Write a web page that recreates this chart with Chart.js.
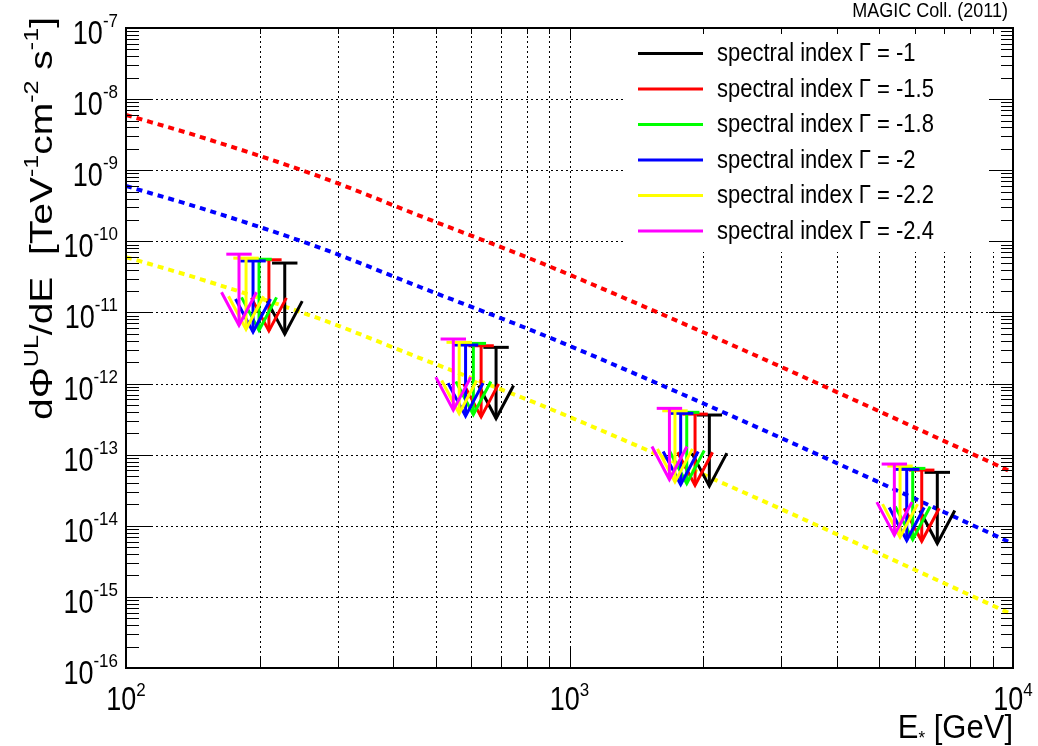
<!DOCTYPE html>
<html>
<head>
<meta charset="utf-8">
<script src="https://cdn.jsdelivr.net/npm/chart.js@4.4.1/dist/chart.umd.min.js"></script>
<style>
html,body{margin:0;padding:0;background:#fff;}
canvas{display:block;}
</style>
</head>
<body>
<canvas id="c" width="1038" height="746"></canvas>
<script>
// ---------------- data ----------------
const seriesLabels = ['spectral index \u0393 = -1', 'spectral index \u0393 = -1.5', 'spectral index \u0393 = -1.8',
                      'spectral index \u0393 = -2', 'spectral index \u0393 = -2.2', 'spectral index \u0393 = -2.4'];
const seriesColors = ['#000000', '#ff0000', '#00ff00', '#0000ff', '#ffff00', '#ff00ff'];

// upper-limit energies (GeV) and flux upper limits per spectral index
const ulE_m1   = [228, 683, 2067, 6750];
const ulV_m1   = [4.95e-11, 3.23e-12, 3.61e-13, 5.64e-14];
const ulE_m15  = [210, 632, 1919, 6226];
const ulV_m15  = [5.5e-11, 3.40e-12, 3.72e-13, 6.07e-14];
const ulE_m18  = [199.5, 607, 1838, 5941];
const ulV_m18  = [5.6e-11, 3.67e-12, 3.94e-13, 6.41e-14];
const ulE_m2   = [193.4, 583, 1781, 5759];
const ulV_m2   = [5.3e-11, 3.48e-12, 3.81e-13, 6.21e-14];
const ulE_m22  = [186.5, 564, 1729, 5563];
const ulV_m22  = [5.8e-11, 3.80e-12, 4.14e-13, 6.92e-14];
const ulE_m24  = [179.8, 547, 1680, 5401];
const ulV_m24  = [6.6e-11, 4.23e-12, 4.48e-13, 7.38e-14];

// dashed reference curves
const curveE      = [100, 147, 274, 460, 860, 1460, 2550, 4520, 10000];
const curveRed    = [6.0e-9, 2.95e-9, 8.1e-10, 2.28e-10, 5.0e-11, 1.24e-11, 2.7e-12, 5.4e-13, 5.6e-14];
const curveBlue   = [6.0e-10, 2.95e-10, 8.1e-11, 2.28e-11, 5.0e-12, 1.24e-12, 2.7e-13, 5.4e-14, 5.6e-15];
const curveYellow = [6.0e-11, 2.95e-11, 8.1e-12, 2.28e-12, 5.0e-13, 1.24e-13, 2.7e-14, 5.4e-15, 5.6e-16];

// tick label exponents
const xTickExps = [2, 3, 4];
const yTickExps = [-7, -8, -9, -10, -11, -12, -13, -14, -15, -16];

// ---------------- helpers ----------------
const FONT = '"Liberation Sans", Arial, Helvetica, sans-serif';
const ulE = [ulE_m1, ulE_m15, ulE_m18, ulE_m2, ulE_m22, ulE_m24];
const ulV = [ulV_m1, ulV_m15, ulV_m18, ulV_m2, ulV_m22, ulV_m24];
const pts = (xs, ys) => xs.map((v, i) => ({x: v, y: ys[i]}));

const curveDs = (vals, col) => ({
  type: 'line', data: pts(curveE, vals), borderColor: col, borderWidth: 4,
  borderDash: [6, 5], borderCapStyle: 'butt', pointRadius: 0, fill: false,
  cubicInterpolationMode: 'monotone', isUL: false
});

const datasets = [
  curveDs(curveRed, '#ff0000'),
  curveDs(curveBlue, '#0000ff'),
  curveDs(curveYellow, '#ffff00')
];
seriesLabels.forEach((lab, i) => {
  datasets.push({
    type: 'line', label: lab, data: pts(ulE[i], ulV[i]), borderColor: seriesColors[i],
    showLine: false, pointRadius: 0, isUL: true
  });
});

const ARROW_FACTOR = 10;   // arrow spans one decade
const CAP_HALF = 12.7, HEAD_W = 17.5, HEAD_H = 33;

function logTicks(minExp, maxExp) {
  const out = [];
  for (let d = minExp; d < maxExp; d++) {
    for (let m = 1; m <= 9; m++) out.push({v: m * Math.pow(10, d), major: m === 1});
  }
  out.push({v: Math.pow(10, maxExp), major: true});
  return out;
}

// text drawn with a vertical stretch (ROOT-like tall glyphs)
function sText(ctx, txt, x, y, px, sy) {
  ctx.save();
  ctx.font = px + 'px ' + FONT;
  ctx.translate(x, y);
  ctx.scale(1, sy);
  ctx.fillText(txt, 0, 0);
  ctx.restore();
}
function tw(ctx, txt, px) { ctx.font = px + 'px ' + FONT; return ctx.measureText(txt).width; }

const gridPlugin = {
  id: 'rootGrid',
  beforeDatasetsDraw(chart) {
    const {ctx, chartArea: a, scales: {x, y}} = chart;
    ctx.save();
    ctx.strokeStyle = '#000';
    ctx.lineWidth = 1;
    ctx.setLineDash([2, 3]);
    logTicks(2, 4).forEach(t => {
      if (t.v <= 100 || t.v >= 10000) return;
      const px = Math.round(x.getPixelForValue(t.v)) + 0.5;
      ctx.beginPath(); ctx.moveTo(px, a.bottom); ctx.lineTo(px, a.top); ctx.stroke();
    });
    logTicks(-16, -7).forEach(t => {
      if (!t.major || t.v <= 1e-16 * 1.0001 || t.v >= 1e-7 * 0.9999) return;
      const py = Math.round(y.getPixelForValue(t.v)) + 0.5;
      ctx.beginPath(); ctx.moveTo(a.left, py); ctx.lineTo(a.right, py); ctx.stroke();
    });
    ctx.restore();
  }
};

function drawPow(ctx, exp, x, yBig, ySmall, align) {
  const es = String(exp);
  const w1 = tw(ctx, '10', 27), w2 = tw(ctx, es, 17);
  const x0 = align === 'right' ? x - w1 - w2 : x - (w1 + w2) / 2;
  ctx.textAlign = 'left';
  ctx.textBaseline = 'alphabetic';
  sText(ctx, '10', x0, yBig, 27, 1.24);
  sText(ctx, es, x0 + w1, ySmall, 17, 1.12);
}

const framePlugin = {
  id: 'rootFrame',
  afterDatasetsDraw(chart) {
    const {ctx, chartArea: a, scales: {x, y}} = chart;
    ctx.save();
    // upper limit arrows
    chart.data.datasets.forEach(ds => {
      if (!ds.isUL) return;
      ctx.strokeStyle = ds.borderColor;
      ctx.lineWidth = 3;
      ctx.lineCap = 'butt';
      ctx.lineJoin = 'miter';
      ctx.setLineDash([]);
      ds.data.forEach(p => {
        const px = x.getPixelForValue(p.x);
        const py = y.getPixelForValue(p.y);
        const ty = y.getPixelForValue(p.y / ARROW_FACTOR);
        ctx.beginPath(); ctx.moveTo(px - CAP_HALF, py); ctx.lineTo(px + CAP_HALF, py); ctx.stroke();
        ctx.beginPath(); ctx.moveTo(px, py); ctx.lineTo(px, ty); ctx.stroke();
        ctx.beginPath(); ctx.moveTo(px - HEAD_W, ty - HEAD_H); ctx.lineTo(px, ty); ctx.lineTo(px + HEAD_W, ty - HEAD_H); ctx.stroke();
      });
    });

    // legend box
    const lx0 = 624, ly0 = a.top + 1, lx1 = a.right, ly1 = 252;
    ctx.fillStyle = '#fff';
    ctx.fillRect(lx0, ly0, lx1 - lx0, ly1 - ly0);
    ctx.textBaseline = 'middle';
    ctx.textAlign = 'left';
    seriesLabels.forEach((lab, i) => {
      const ry = 53.5 + i * 35.5;
      ctx.strokeStyle = seriesColors[i];
      ctx.lineWidth = 3;
      ctx.beginPath(); ctx.moveTo(638, ry); ctx.lineTo(703, ry); ctx.stroke();
      ctx.fillStyle = '#000';
      sText(ctx, lab, 717, ry + 1, 22, 1.15);
    });

    // frame
    ctx.strokeStyle = '#000';
    ctx.lineWidth = 2;
    ctx.strokeRect(a.left, a.top, a.right - a.left, a.bottom - a.top);

    // ticks
    ctx.lineWidth = 1;
    logTicks(2, 4).forEach(t => {
      const px = Math.round(x.getPixelForValue(t.v)) + 0.5;
      const lb = t.major ? 20 : 11, lt = t.major ? 12 : 6;
      ctx.beginPath(); ctx.moveTo(px, a.bottom); ctx.lineTo(px, a.bottom - lb); ctx.stroke();
      ctx.beginPath(); ctx.moveTo(px, a.top); ctx.lineTo(px, a.top + lt); ctx.stroke();
    });
    logTicks(-16, -7).forEach(t => {
      const py = Math.round(y.getPixelForValue(t.v)) + 0.5;
      const ll = t.major ? 26 : 13, lr = t.major ? 24 : 12;
      ctx.beginPath(); ctx.moveTo(a.left, py); ctx.lineTo(a.left + ll, py); ctx.stroke();
      ctx.beginPath(); ctx.moveTo(a.right, py); ctx.lineTo(a.right - lr, py); ctx.stroke();
    });

    // tick labels
    ctx.fillStyle = '#000';
    yTickExps.forEach(e => {
      const py = y.getPixelForValue(Math.pow(10, e));
      drawPow(ctx, e, 118, py + 16, py - 1, 'right');
    });
    xTickExps.forEach(e => {
      const px = x.getPixelForValue(Math.pow(10, e));
      drawPow(ctx, e, px, 710, 696, 'center');
    });

    // x title
    ctx.textAlign = 'left';
    ctx.textBaseline = 'alphabetic';
    const wE = tw(ctx, 'E', 31), wR = tw(ctx, ' [GeV]', 31), wS = tw(ctx, '*', 17);
    let xx = a.right - wE - wS - wR;
    sText(ctx, 'E', xx, 738, 31, 1.1); xx += wE;
    sText(ctx, '*', xx, 744, 17, 1.1); xx += wS;
    sText(ctx, ' [GeV]', xx, 738, 31, 1.1);

    // y title (rotated, right-aligned to top, stretched along its length)
    const parts = [['d\u03A6', 0], ['UL', 1], ['/dE  [TeV', 0], ['-1', 1], ['cm', 0], ['-2', 1], [' s', 0], ['-1', 1], [']', 0]];
    const big = 31, small = 20;
    let total = 0;
    parts.forEach(p => { p.push(tw(ctx, p[0], p[1] ? small : big)); total += p[2]; });
    const top = 17, bottom = 420;
    const stretch = (bottom - top) / total;
    ctx.save();
    ctx.translate(52, bottom);
    ctx.rotate(-Math.PI / 2);
    ctx.scale(stretch, 1);
    let tx = 0;
    parts.forEach(p => {
      ctx.font = (p[1] ? small : big) + 'px ' + FONT;
      ctx.fillText(p[0], tx, p[1] ? -14 : 0);
      tx += p[2];
    });
    ctx.restore();

    // top-right caption
    ctx.textAlign = 'right';
    sText(ctx, 'MAGIC Coll. (2011)', 1008, 17, 18, 1.12);
    ctx.restore();
  }
};

new Chart(document.getElementById('c').getContext('2d'), {
  type: 'line',
  data: {datasets},
  options: {
    responsive: false,
    animation: false,
    layout: {padding: {left: 126, right: 25, top: 28, bottom: 78}},
    scales: {
      x: {type: 'logarithmic', min: 100, max: 10000, grid: {display: false}, border: {display: false},
          ticks: {display: false}, afterFit(s) { s.height = 0; }},
      y: {type: 'logarithmic', min: 1e-16, max: 1e-7, grid: {display: false}, border: {display: false},
          ticks: {display: false}, afterFit(s) { s.width = 0; }}
    },
    plugins: {legend: {display: false}, tooltip: {enabled: false}}
  },
  plugins: [gridPlugin, framePlugin]
});
</script>
</body>
</html>
